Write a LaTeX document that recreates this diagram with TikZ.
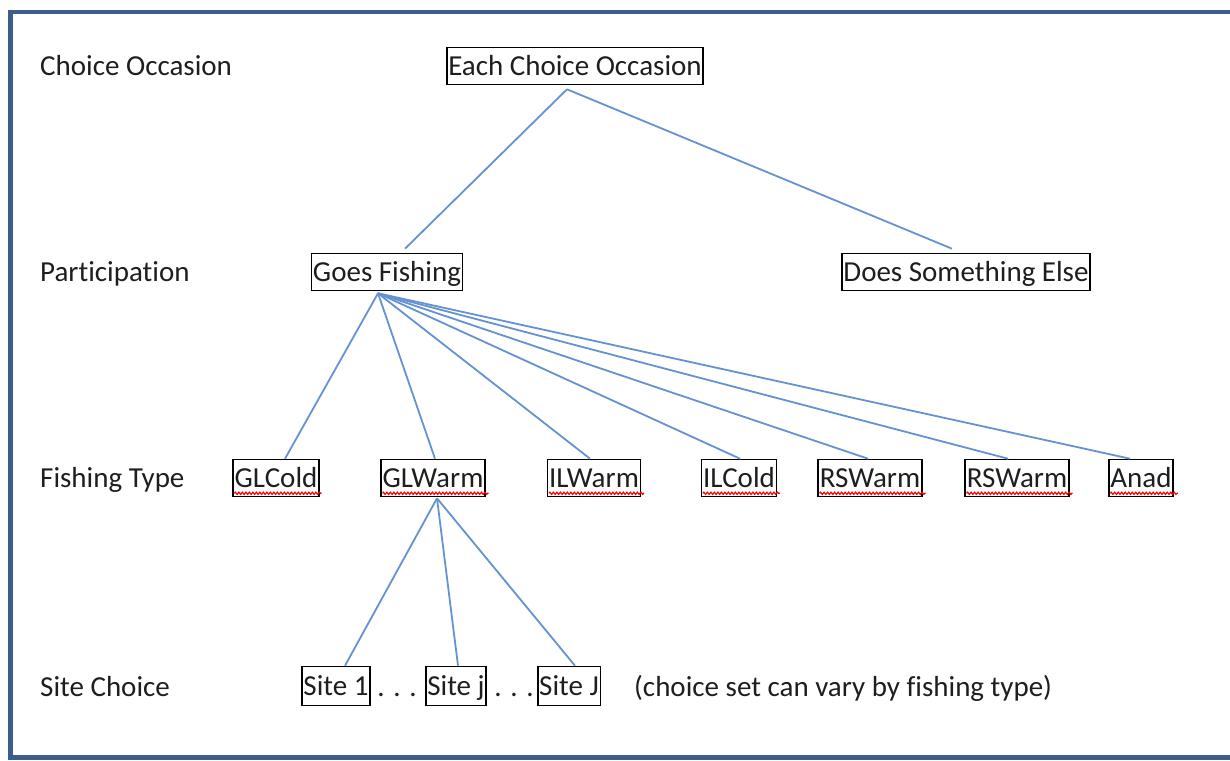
\documentclass[tikz,border=0pt]{standalone}
\usepackage{fontspec}
\setmainfont{Carlito}[Ligatures=NoCommon]
\usetikzlibrary{decorations.pathmorphing}
\definecolor{framecol}{RGB}{59,94,140}
\definecolor{linkcol}{RGB}{100,146,210}
\definecolor{inkcol}{RGB}{30,30,30}

\begin{document}
\begin{tikzpicture}[x=1pt,y=-1pt,font=\fontsize{29}{34}\selectfont,text=inkcol,
	box/.style={draw=black,line width=1.6pt,inner xsep=1.5pt,inner ysep=2pt,text height=26pt,text depth=7pt,anchor=center},
	sitebox/.style={box,inner ysep=3pt},
	plain/.style={inner xsep=0pt,inner ysep=2pt,text height=26pt,text depth=7pt},
	level/.style={plain,anchor=west},
	link/.style={draw=linkcol,line width=1.8pt},
	spell/.style={draw=red,line width=1.2pt,decorate,decoration={snake,amplitude=1.1pt,segment length=3.5pt}}]
		
		\useasboundingbox (0,0) rectangle (1230,760);
		\draw[framecol,line width=4.5pt] (10.5,12) rectangle (1260,757.5);
		
		\node[level] at (40,66) (lvl1) {Choice Occasion};
		\node[level] at (40,272) (lvl2) {Participation};
		\node[level] at (40,478) (lvl3) {Fishing Type};
		\node[level] at (40,687) (lvl4) {Site Choice};
		
		\node[box] at (575,66) (each) {Each Choice Occasion};
		\node[box] at (387,272) (goes) {Goes Fishing};
		\node[box] at (966,272) (other) {Does Something Else};
		
		\node[box] at (276,478) (glcold) {GLCold};
		\node[box] at (433,478) (glwarm) {GLWarm};
		\node[box] at (594,478) (ilwarm) {ILWarm};
		\node[box] at (739,478) (ilcold) {ILCold};
		\node[box] at (870,478) (rswarm) {RSWarm};
		\node[box] at (1017,478) (rswarmb) {RSWarm};
		\node[box] at (1141,478) (anad) {Anad};
		
		\node[sitebox] at (336,686) (site1) {Site 1};
		\node[plain] at (397,687) (dots1) {. . .};
		\node[sitebox] at (456,686) (sitej) {Site j};
		\node[plain] at (514,687) (dots2) {. . .};
		\node[sitebox] at (569,686) (siteJJ) {Site J};
		\node[plain,anchor=west] at (634,687) (note) {(choice set can vary by fishing type)};
		
		\draw[spell] ([xshift=2pt,yshift=4pt]glcold.south west) -- ([xshift=2pt,yshift=4pt]glcold.south east);
		\draw[spell] ([xshift=2pt,yshift=4pt]glwarm.south west) -- ([xshift=3pt,yshift=4pt]glwarm.south east);
		\draw[spell] ([xshift=2pt,yshift=4pt]ilwarm.south west) -- ([xshift=3pt,yshift=4pt]ilwarm.south east);
		\draw[spell] ([xshift=2pt,yshift=4pt]ilcold.south west) -- ([xshift=3pt,yshift=4pt]ilcold.south east);
		\draw[spell] ([xshift=2pt,yshift=4pt]rswarm.south west) -- ([xshift=3pt,yshift=4pt]rswarm.south east);
		\draw[spell] ([xshift=2pt,yshift=4pt]rswarmb.south west) -- ([xshift=3pt,yshift=4pt]rswarmb.south east);
		\draw[spell] ([xshift=2pt,yshift=4pt]anad.south west) -- ([xshift=4pt,yshift=4pt]anad.south east);
		
		\path[link]
		([xshift=-8pt,yshift=-4pt]each.south) edge ([xshift=18pt,yshift=4pt]goes.north)
		([xshift=-8pt,yshift=-4pt]each.south) edge ([xshift=-14pt,yshift=4pt]other.north)
		([xshift=-9pt,yshift=-2pt]goes.south) edge ([xshift=9pt]glcold.north)
		([xshift=-9pt,yshift=-2pt]goes.south) edge ([xshift=2pt]glwarm.north)
		([xshift=-9pt,yshift=-2pt]goes.south) edge ([xshift=-4pt]ilwarm.north)
		([xshift=-9pt,yshift=-2pt]goes.south) edge ([xshift=1pt]ilcold.north)
		([xshift=-9pt,yshift=-2pt]goes.south) edge ([xshift=-2pt]rswarm.north)
		([xshift=-9pt,yshift=-2pt]goes.south) edge ([xshift=-9pt]rswarmb.north)
		([xshift=-9pt,yshift=-2pt]goes.south) edge ([xshift=-11pt]anad.north)
		([xshift=4pt,yshift=-1pt]glwarm.south) edge ([xshift=9pt]site1.north)
		([xshift=4pt,yshift=-1pt]glwarm.south) edge ([xshift=2pt]sitej.north)
		([xshift=4pt,yshift=-1pt]glwarm.south) edge ([xshift=6pt]siteJJ.north)
		;
		
		\end{tikzpicture}
\end{document}
